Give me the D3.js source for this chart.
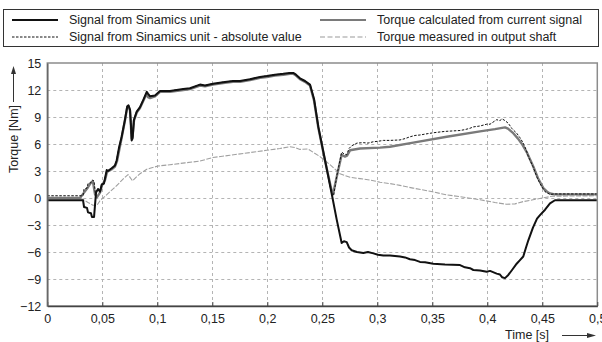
<!DOCTYPE html>
<html>
<head>
<meta charset="utf-8">
<script src="https://cdn.jsdelivr.net/npm/d3@7"></script>
<style>
  body { margin: 0; background: #fff; }
  svg { display: block; font-family: "Liberation Sans", Arial, sans-serif; }
</style>
</head>
<body>
<div id="chart"></div>
<script>
// [time s, torque Nm]
const signal = [[0,-0.25],[0.0325,-0.25],[0.0334,-1.0],[0.0361,-1.1],[0.037,-1.6],[0.0397,-1.7],[0.0406,-2.1],[0.0425,-2.1],[0.0443,0.6],[0.0461,1.0],[0.0479,0.7],[0.0495,1.5],[0.0515,1.6],[0.0525,2.2],[0.054,3.1],[0.0552,3.0],[0.0585,3.3],[0.0615,3.6],[0.0631,4.2],[0.0652,5.6],[0.0676,6.8],[0.0706,8.7],[0.0727,10.2],[0.0738,10.3],[0.0752,9.8],[0.0761,8.0],[0.0767,6.4],[0.0775,6.6],[0.0788,8.7],[0.0813,9.6],[0.0843,10.1],[0.0873,10.9],[0.0904,11.8],[0.0915,11.6],[0.0934,11.3],[0.0979,11.4],[0.1025,11.9],[0.1115,11.9],[0.1236,12.1],[0.1297,12.2],[0.1388,12.6],[0.1434,12.5],[0.1506,12.7],[0.1615,12.9],[0.1688,13.0],[0.1752,13.0],[0.1843,13.2],[0.1934,13.45],[0.1995,13.55],[0.207,13.7],[0.2145,13.8],[0.2206,13.9],[0.2236,13.9],[0.2261,13.7],[0.2297,13.3],[0.2343,13.0],[0.2388,12.6],[0.2425,11.0],[0.2464,7.9],[0.2525,4.2],[0.2585,0.5],[0.2631,-2.4],[0.2676,-5.0],[0.2697,-4.8],[0.2722,-4.9],[0.2743,-5.5],[0.2767,-5.8],[0.2815,-6.0],[0.2873,-6.1],[0.2915,-6.0],[0.2964,-6.15],[0.3006,-6.3],[0.3055,-6.4],[0.3115,-6.4],[0.3206,-6.5],[0.3252,-6.6],[0.3297,-6.8],[0.3343,-6.9],[0.3388,-7.1],[0.3434,-7.15],[0.3509,-7.3],[0.3615,-7.4],[0.3752,-7.45],[0.3797,-7.7],[0.3843,-7.8],[0.3873,-8.0],[0.3934,-8.05],[0.3995,-8.2],[0.4025,-8.1],[0.4085,-8.4],[0.4115,-8.5],[0.4134,-8.8],[0.4161,-8.9],[0.4191,-8.55],[0.4225,-8.0],[0.4267,-7.3],[0.4297,-6.9],[0.4327,-6.5],[0.4352,-5.5],[0.4373,-4.7],[0.4415,-3.3],[0.4452,-2.3],[0.4479,-1.9],[0.4525,-1.3],[0.457,-0.6],[0.4615,-0.25],[0.5,-0.25]];

const signalAbs = [[0,0.25],[0.0325,0.25],[0.0334,1.0],[0.0361,1.1],[0.037,1.6],[0.0397,1.7],[0.0406,2.0],[0.0425,1.9],[0.0438,0.4],[0.0443,0.6],[0.0461,1.0],[0.0479,0.7],[0.0495,1.5],[0.0515,1.6],[0.0525,2.2],[0.054,3.1],[0.0552,3.0],[0.0585,3.3],[0.0615,3.6],[0.0631,4.2],[0.0652,5.6],[0.0676,6.8],[0.0706,8.7],[0.0727,10.2],[0.0738,10.3],[0.0752,9.8],[0.0761,8.0],[0.0767,6.4],[0.0775,6.6],[0.0788,8.7],[0.0813,9.6],[0.0843,10.1],[0.0873,10.9],[0.0904,11.8],[0.0915,11.6],[0.0934,11.3],[0.0979,11.4],[0.1025,11.9],[0.1115,11.9],[0.1236,12.1],[0.1297,12.2],[0.1388,12.6],[0.1434,12.5],[0.1506,12.7],[0.1615,12.9],[0.1688,13.0],[0.1752,13.0],[0.1843,13.2],[0.1934,13.45],[0.1995,13.55],[0.207,13.7],[0.2145,13.8],[0.2206,13.9],[0.2236,13.9],[0.2261,13.7],[0.2297,13.3],[0.2343,13.0],[0.2388,12.6],[0.2425,11.0],[0.2464,7.9],[0.2525,4.2],[0.2585,0.5],[0.2603,0.3],[0.2631,2.4],[0.2676,5.1],[0.2697,4.9],[0.2722,4.8],[0.2743,5.5],[0.2767,5.8],[0.2815,6.1],[0.2873,6.15],[0.2915,6.1],[0.2964,6.25],[0.3006,6.3],[0.3055,6.4],[0.3115,6.4],[0.3206,6.45],[0.3252,6.6],[0.3297,6.8],[0.3343,6.95],[0.3388,7.0],[0.3434,7.1],[0.3509,7.25],[0.3615,7.4],[0.3752,7.5],[0.3797,7.6],[0.3843,7.75],[0.3873,7.9],[0.3934,8.0],[0.3995,8.2],[0.4025,8.2],[0.4085,8.7],[0.4115,8.6],[0.4134,8.8],[0.4161,8.6],[0.4191,8.3],[0.4225,7.7],[0.4267,7.2],[0.4297,6.7],[0.4327,6.1],[0.4352,5.4],[0.4373,4.6],[0.4415,3.5],[0.4452,2.3],[0.4479,1.6],[0.4525,0.7],[0.457,0.4],[0.4615,0.45],[0.5,0.45]];

const torqueCalc = [[0,0],[0.0297,0],[0.0334,0.6],[0.037,1.2],[0.0397,1.7],[0.0415,1.8],[0.0434,0.4],[0.0452,0.1],[0.0479,0.6],[0.0497,1.4],[0.0525,2.0],[0.0543,2.9],[0.057,3.1],[0.0588,3.2],[0.0615,3.5],[0.0634,4.1],[0.0676,6.7],[0.0706,8.6],[0.0727,10.1],[0.0738,10.2],[0.0752,9.7],[0.0767,6.6],[0.0775,6.8],[0.0788,8.6],[0.0813,9.5],[0.0843,10.0],[0.0873,10.8],[0.0904,11.6],[0.0915,11.2],[0.0934,11.1],[0.0979,11.3],[0.1025,11.8],[0.1115,11.8],[0.1236,12.0],[0.1297,12.1],[0.1388,12.5],[0.1434,12.4],[0.1506,12.6],[0.1615,12.8],[0.1688,12.9],[0.1752,12.9],[0.1843,13.1],[0.1934,13.35],[0.1995,13.45],[0.207,13.6],[0.2145,13.7],[0.2206,13.8],[0.2236,13.8],[0.2261,13.6],[0.2297,13.2],[0.2343,12.9],[0.2388,12.5],[0.2425,10.8],[0.2464,7.8],[0.2525,4.1],[0.2585,0.8],[0.2597,0.4],[0.2625,2.0],[0.2645,3.1],[0.2676,4.8],[0.2706,4.6],[0.2725,4.7],[0.2752,5.3],[0.2843,5.5],[0.3025,5.6],[0.3115,5.7],[0.3327,6.15],[0.3631,6.8],[0.3934,7.4],[0.407,7.65],[0.4161,7.85],[0.4188,7.7],[0.4236,7.2],[0.4279,6.6],[0.4315,6.0],[0.4358,5.1],[0.4418,3.5],[0.4461,2.2],[0.4509,1.1],[0.4543,0.7],[0.457,0.5],[0.4615,0.4],[0.5,0.4]];

const torqueShaft = [[0,0],[0.0279,0],[0.0315,-0.1],[0.037,-0.5],[0.0415,-0.8],[0.0452,-0.8],[0.0479,-0.3],[0.0525,0.2],[0.057,0.7],[0.0615,1.2],[0.0661,1.75],[0.0697,2.2],[0.0734,2.6],[0.0752,2.3],[0.0775,1.9],[0.0806,2.3],[0.0843,2.7],[0.0904,3.2],[0.0934,3.3],[0.1006,3.55],[0.1115,3.7],[0.1252,3.9],[0.1388,4.1],[0.1506,4.5],[0.1661,4.75],[0.1843,5.05],[0.1995,5.3],[0.2115,5.5],[0.2206,5.7],[0.2252,5.6],[0.2297,5.4],[0.237,5.45],[0.2415,5.1],[0.2479,4.6],[0.257,3.7],[0.2661,2.7],[0.2706,2.5],[0.2752,2.3],[0.2843,2.15],[0.2934,2.0],[0.3025,1.75],[0.3115,1.6],[0.3206,1.4],[0.3325,1.1],[0.348,0.75],[0.3631,0.35],[0.3752,0.15],[0.3934,-0.2],[0.407,-0.5],[0.4176,-0.7],[0.4252,-0.65],[0.4325,-0.4],[0.4415,-0.2],[0.4525,0.05],[0.4588,0.2],[0.5,0.25]];

const xTicks = [0, 0.05, 0.1, 0.15, 0.2, 0.25, 0.3, 0.35, 0.4, 0.45, 0.5];
const yTicks = [-12, -9, -6, -3, 0, 3, 6, 9, 12, 15];
const legendLabels = [
  "Signal from Sinamics unit",
  "Signal from Sinamics unit - absolute value",
  "Torque calculated from current signal",
  "Torque measured in output shaft"
];

const width = 602, height = 342;
const plotL = 47.3, plotR = 597.3, plotT = 63, plotB = 306;
const fontSize = 12.5;

const x = d3.scaleLinear().domain([0, 0.5]).range([plotL, plotR]);
const y = d3.scaleLinear().domain([-12, 15]).range([plotB, plotT]);
const fmt = d => String(d).replace(".", ",");

const svg = d3.select("#chart").append("svg")
  .attr("width", width).attr("height", height);

svg.append("rect").attr("width", width).attr("height", height).attr("fill", "#fff");

// grid
const grid = svg.append("g").attr("stroke", "#b4b4b4").attr("stroke-width", 1).attr("stroke-dasharray", "3,3");
grid.selectAll("line.v").data(xTicks.slice(1, -1)).join("line").attr("class", "v")
  .attr("x1", d => Math.round(x(d)) + 0.5).attr("x2", d => Math.round(x(d)) + 0.5)
  .attr("y1", plotT).attr("y2", plotB);
grid.selectAll("line.h").data(yTicks.slice(1, -1)).join("line").attr("class", "h")
  .attr("y1", d => Math.round(y(d)) + 0.5).attr("y2", d => Math.round(y(d)) + 0.5)
  .attr("x1", plotL).attr("x2", plotR);

// series
const line = d3.line().x(d => x(d[0])).y(d => y(d[1]));
const series = [
  { data: torqueShaft, stroke: "#a0a0a0", w: 1.1, dash: "5,1.5" },
  { data: torqueCalc, stroke: "#7a7a7a", w: 2.4, dash: null },
  { data: signal, stroke: "#111", w: 2, dash: null },
  { data: signalAbs, stroke: "#111", w: 1, dash: "2.5,1.5" }
];
svg.append("g").attr("fill", "none").attr("stroke-linejoin", "round")
  .selectAll("path").data(series).join("path")
  .attr("d", d => line(d.data))
  .attr("stroke", d => d.stroke)
  .attr("stroke-width", d => d.w)
  .attr("stroke-dasharray", d => d.dash);

// frame
svg.append("rect").attr("x", plotL).attr("y", plotT)
  .attr("width", plotR - plotL).attr("height", plotB - plotT)
  .attr("fill", "none").attr("stroke", "#8c8c8c").attr("stroke-width", 1.5);

// axes
const xAxis = svg.append("g").attr("transform", `translate(0,${plotB})`)
  .call(d3.axisBottom(x).tickValues(xTicks).tickFormat(fmt).tickSizeInner(-4).tickSizeOuter(0).tickPadding(8));
xAxis.select(".domain").attr("stroke", "#444").attr("stroke-width", 1.5);
xAxis.selectAll(".tick line").attr("stroke", "#444");
xAxis.selectAll("text").attr("font-size", fontSize).attr("fill", "#222").attr("font-family", "Liberation Sans, Arial, sans-serif");

const yAxis = svg.append("g").attr("transform", `translate(${plotL},0)`)
  .call(d3.axisLeft(y).tickValues(yTicks).tickSize(0).tickPadding(6));
yAxis.select(".domain").attr("stroke", "#666").attr("stroke-width", 1.5);
yAxis.selectAll("text").attr("font-size", fontSize).attr("fill", "#222").attr("font-family", "Liberation Sans, Arial, sans-serif");

// axis titles with arrows
svg.append("text").attr("transform", "translate(17.5,139) rotate(-90)")
  .attr("text-anchor", "middle").attr("font-size", fontSize).attr("fill", "#222")
  .text("Torque [Nm]");
svg.append("line").attr("x1", 13.5).attr("x2", 13.5).attr("y1", 102).attr("y2", 72)
  .attr("stroke", "#333").attr("stroke-width", 1);
svg.append("path").attr("d", "M13.5,66 L11,74 L16,74 Z").attr("fill", "#333");

svg.append("text").attr("x", 549).attr("y", 339).attr("text-anchor", "end")
  .attr("font-size", fontSize).attr("fill", "#222").text("Time [s]");
svg.append("line").attr("x1", 562).attr("x2", 592).attr("y1", 335.5).attr("y2", 335.5)
  .attr("stroke", "#333").attr("stroke-width", 1);
svg.append("path").attr("d", "M596,335.5 L587,333 L587,338 Z").attr("fill", "#333");

// legend
svg.append("rect").attr("x", 3.5).attr("y", 9.5).attr("width", 595).attr("height", 37)
  .attr("fill", "#fff").attr("stroke", "#333").attr("stroke-width", 1);
const legendItems = [
  { label: legendLabels[0], s: series[2], lx: 12, ly: 20 },
  { label: legendLabels[1], s: series[3], lx: 12, ly: 37 },
  { label: legendLabels[2], s: series[1], lx: 320, ly: 20 },
  { label: legendLabels[3], s: { stroke: "#9a9a9a", w: 1.2, dash: "5,2.5" }, lx: 320, ly: 37 }
];
const lg = svg.append("g").selectAll("g").data(legendItems).join("g");
lg.append("line")
  .attr("x1", d => d.lx).attr("x2", d => d.lx + 46)
  .attr("y1", d => d.ly).attr("y2", d => d.ly)
  .attr("stroke", d => d.s.stroke)
  .attr("stroke-width", d => Math.min(d.s.w, 1.8))
  .attr("stroke-dasharray", d => d.s.dash);
lg.append("text")
  .attr("x", d => d.lx + 57).attr("y", d => d.ly).attr("dy", "0.35em")
  .attr("font-size", fontSize).attr("fill", "#222")
  .text(d => d.label);
</script>
</body>
</html>
